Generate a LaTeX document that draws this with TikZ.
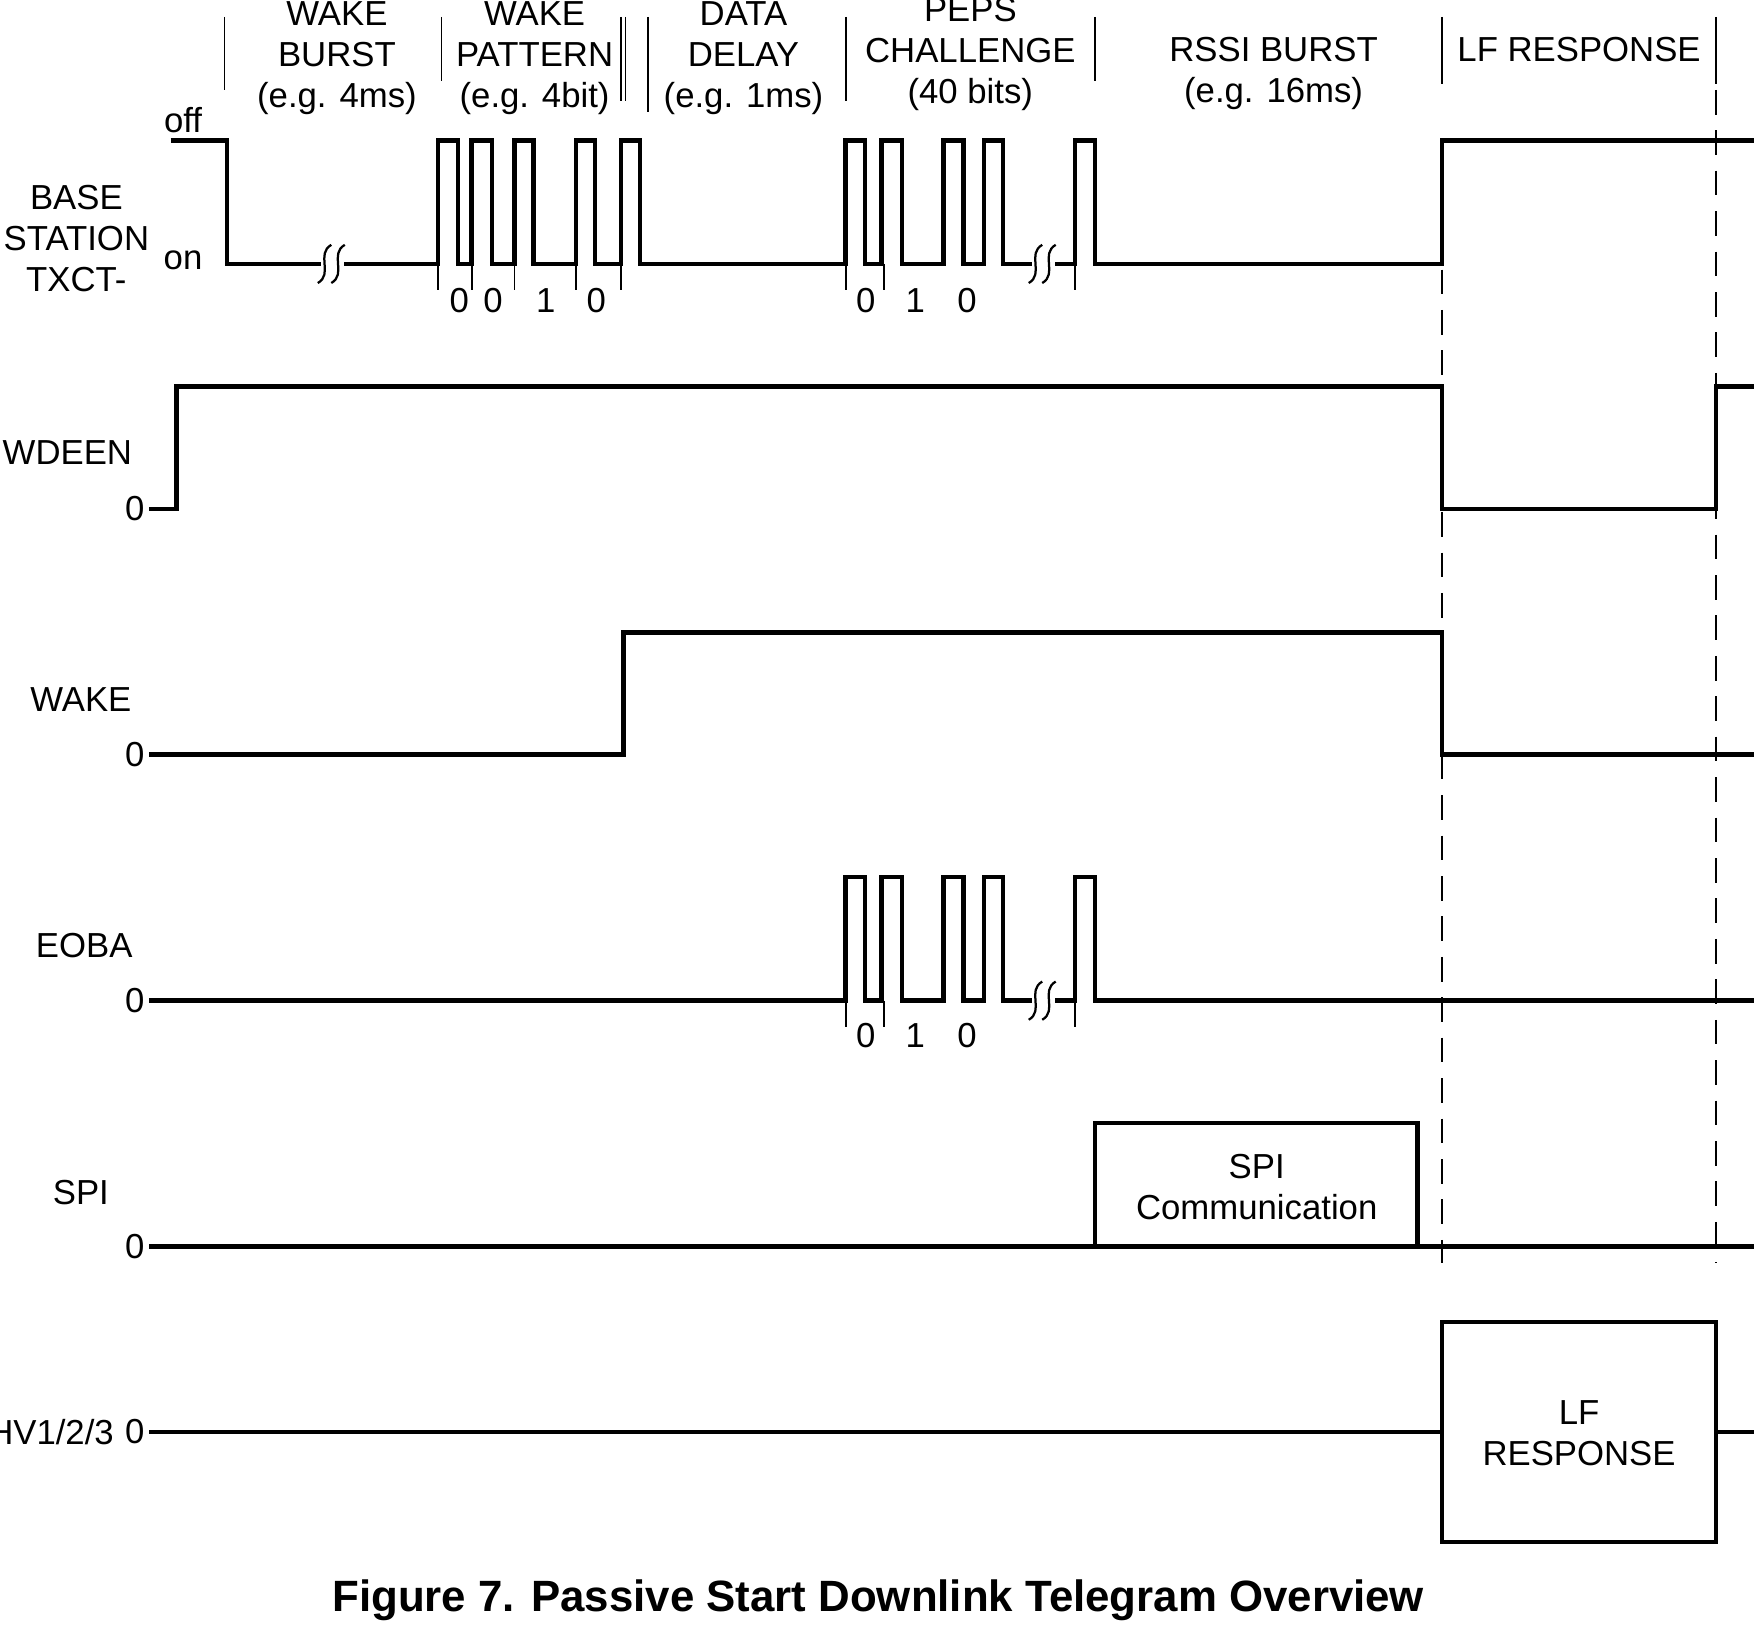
\documentclass[tikz,border=0pt]{standalone}
\usepackage{fontspec}
\setmainfont{Liberation Sans}
\begin{document}
\begin{tikzpicture}[x=0.1mm,y=-0.1mm,
 sig/.style={line width=0.4mm},
 thin/.style={line width=0.15mm},
 dashln/.style={line width=0.15mm,dash pattern=on 2.2mm off 1.4mm},
 lab/.style={font=\fontsize{8.8}{10.4}\selectfont,align=center,inner sep=0},
 brk/.style={line width=0.2mm}]
\useasboundingbox (0,0) rectangle (1568,1450);
% header
\foreach \x/\a/\b in {200/15/80,393/15/72,553/15/90,557/15/90,577/15/100,753/15/90,975/15/72,1284/15/75,1528/15/75}
  \draw[thin] (\x,\a) -- (\x,\b);
\node[lab] (h1) at (300,52) {WAKE\\BURST\\(e.g. 4ms)};
\node[lab] (h2) at (476,52) {WAKE\\PATTERN\\(e.g. 4bit)};
\node[lab] (h3) at (662,52) {DATA\\DELAY\\(e.g. 1ms)};
\node[lab] (h4) at (864,48) {PEPS\\CHALLENGE\\(40 bits)};
\node[lab] (h5) at (1134,65) {RSSI BURST\\(e.g. 16ms)};
\node[lab] (h6) at (1406,44) {LF RESPONSE};
% labels
\node[lab] (l1) at (68,212) {BASE\\STATION\\TXCT-};
\node[lab] (off) at (163,107) {off};
\node[lab] (on) at (163,232) {on};
\node[lab] (l2) at (60,403) {WDEEN};
\node[lab] (l3) at (72,623) {WAKE};
\node[lab] (l4) at (75,842) {EOBA};
\node[lab] (l5) at (72,1062) {SPI};
\node[lab,anchor=east] (l6) at (102,1275) {HV1/2/3};
\foreach \y in {453,672,891,1110,1275} \node[lab] at (120,\y) {0};
% base station
\draw[sig] (152,125) -- (202,125) -- (202,235) -- (390,235)
 |- (408,125) |- (420,235) |- (438,125) |- (458,235) |- (475,125) |- (513,235)
 |- (530,125) |- (553,235) |- (570,125) |- (753,235)
 |- (770,125) |- (785,235) |- (803,125) |- (840,235) |- (858,125) |- (876,235)
 |- (893,125) |- (957,235) |- (975,125) |- (1284,235) |- (1562,125);
\fill[white] (286,225) rectangle (306,245);
\fill[white] (919,225) rectangle (939,245);
\foreach \x in {289,301,922,934}
  \draw[brk] (\x+6,218) .. controls (\x-8,226) and (\x+8,244) .. (\x-6,252);
\foreach \x in {390,420,458,513,553,753,787,957} \draw[thin] (\x,235) -- (\x,258);
\foreach \x/\t in {409/0,439/0,486/1,531/0,771/0,815/1,861/0} \node[lab] at (\x,268) {\t};
% WDEEN
\draw[sig] (133,453) -- (157,453) -- (157,344) -- (1284,344) -- (1284,453) -- (1528,453) -- (1528,344) -- (1562,344);
% WAKE
\draw[sig] (133,672) -- (555,672) -- (555,563) -- (1284,563) -- (1284,672) -- (1562,672);
% EOBA
\draw[sig] (133,891) -- (753,891)
 |- (770,781) |- (785,891) |- (803,781) |- (840,891) |- (858,781) |- (876,891)
 |- (893,781) |- (957,891) |- (975,781) |- (1562,891);
\fill[white] (919,881) rectangle (939,901);
\foreach \x in {922,934}
  \draw[brk] (\x+6,874) .. controls (\x-8,882) and (\x+8,900) .. (\x-6,908);
\foreach \x in {753,787,957} \draw[thin] (\x,891) -- (\x,914);
\foreach \x/\t in {771/0,815/1,861/0} \node[lab] at (\x,922) {\t};
% SPI
\draw[sig] (133,1110) -- (1562,1110);
\draw[sig] (975,1110) -- (975,1000) -- (1262,1000) -- (1262,1110);
\node[lab] (spi) at (1119,1057) {SPI\\Communication};
% HV
\draw[sig] (133,1275) -- (1284,1275);
\draw[sig] (1528,1275) -- (1562,1275);
\draw[sig] (1284,1177) rectangle (1528,1373);
\node[lab] (lfr) at (1406,1276) {LF\\RESPONSE};
% dashed
\draw[dashln] (1284,240) -- (1284,1125);
\draw[dashln] (1528,80) -- (1528,1125);
% caption
\node[font=\fontsize{11.1}{13}\selectfont\bfseries,inner sep=0] (cap) at (782,1425) {Figure 7. Passive Start Downlink Telegram Overview};
\end{tikzpicture}
\end{document}
